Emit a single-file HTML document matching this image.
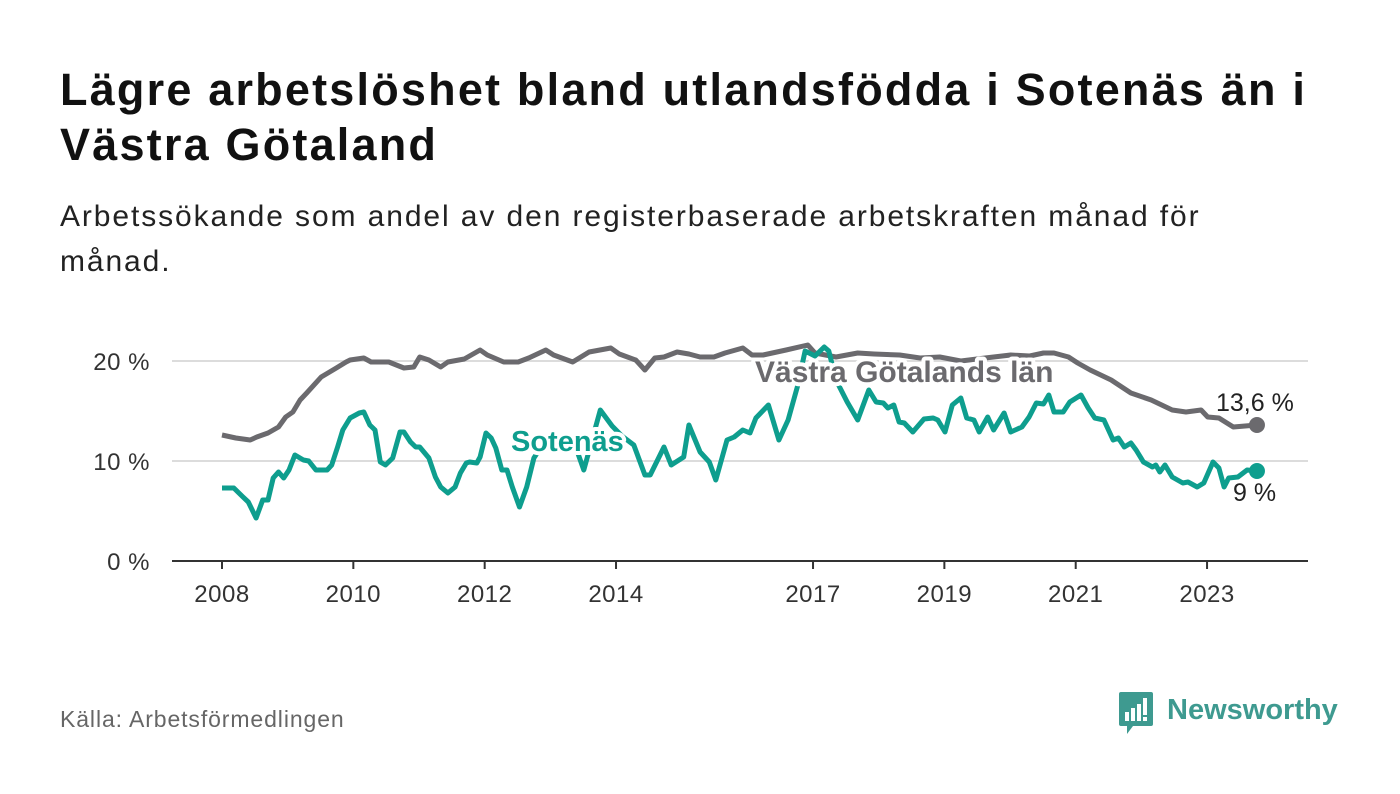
<!DOCTYPE html>
<html><head><meta charset="utf-8"><style>
body{margin:0;width:1400px;height:794px;background:#fff;font-family:"Liberation Sans","DejaVu Sans",sans-serif;overflow:hidden;position:relative}
h1{position:absolute;left:60px;top:62px;margin:0;font-size:45px;letter-spacing:2.2px;line-height:55px;font-weight:bold;color:#111;width:1285px}
.sub{position:absolute;left:60px;top:194px;margin:0;font-size:30px;letter-spacing:1.9px;line-height:45px;color:#222;width:1200px}
.src{position:absolute;left:60px;top:706px;font-size:23px;letter-spacing:0.9px;color:#666}
svg{position:absolute;left:0;top:0}
</style></head><body>
<h1>Lägre arbetslöshet bland utlandsfödda i Sotenäs än i Västra Götaland</h1>
<p class="sub">Arbetssökande som andel av den registerbaserade arbetskraften månad för månad.</p>
<div class="src">Källa: Arbetsförmedlingen</div>
<svg width="1400" height="794" id="chart"></svg>
<script>
const yTicks=[0,10,20];
const yTickLabels=["0 %","10 %","20 %"];
const xTicks=[2008,2010,2012,2014,2017,2019,2021,2023];
const sotDates=[2008.0,2008.18,2008.32,2008.40,2008.52,2008.62,2008.70,2008.78,2008.86,2008.94,2009.02,2009.11,2009.24,2009.32,2009.43,2009.60,2009.67,2009.76,2009.84,2009.95,2010.09,2010.16,2010.25,2010.33,2010.41,2010.49,2010.60,2010.71,2010.77,2010.87,2010.95,2011.01,2011.15,2011.25,2011.33,2011.44,2011.55,2011.63,2011.72,2011.77,2011.88,2011.93,2012.02,2012.10,2012.17,2012.26,2012.34,2012.42,2012.53,2012.64,2012.75,2012.92,2013.15,2013.38,2013.51,2013.76,2013.94,2014.09,2014.27,2014.44,2014.52,2014.73,2014.84,2015.03,2015.11,2015.28,2015.42,2015.52,2015.69,2015.80,2015.93,2016.04,2016.13,2016.32,2016.48,2016.62,2016.76,2016.88,2017.03,2017.17,2017.24,2017.35,2017.52,2017.68,2017.85,2017.96,2018.07,2018.14,2018.23,2018.31,2018.39,2018.52,2018.69,2018.83,2018.90,2019.01,2019.12,2019.25,2019.34,2019.45,2019.53,2019.66,2019.75,2019.91,2020.01,2020.18,2020.29,2020.40,2020.51,2020.59,2020.67,2020.81,2020.91,2021.08,2021.19,2021.29,2021.43,2021.57,2021.65,2021.74,2021.84,2021.92,2022.03,2022.17,2022.22,2022.28,2022.36,2022.47,2022.63,2022.71,2022.85,2022.95,2023.09,2023.18,2023.26,2023.33,2023.47,2023.61,2023.76];
const sotValues=[7.3,7.3,6.4,5.9,4.3,6.1,6.1,8.3,8.9,8.3,9.1,10.6,10.1,10.0,9.1,9.1,9.6,11.4,13.1,14.3,14.8,14.9,13.6,13.1,9.9,9.6,10.3,12.9,12.9,11.9,11.4,11.4,10.3,8.4,7.4,6.8,7.4,8.8,9.8,9.9,9.8,10.4,12.8,12.3,11.3,9.1,9.1,7.4,5.4,7.4,10.3,12.0,12.5,11.5,9.1,15.1,13.5,12.5,11.6,8.6,8.6,11.4,9.6,10.4,13.6,10.9,9.9,8.1,12.1,12.4,13.1,12.8,14.3,15.6,12.1,14.1,17.4,21.0,20.5,21.4,21.0,18.1,15.9,14.1,17.1,15.9,15.8,15.3,15.6,13.9,13.8,12.9,14.2,14.3,14.1,12.9,15.6,16.3,14.3,14.1,12.9,14.4,13.1,14.8,12.9,13.4,14.4,15.8,15.7,16.6,14.9,14.9,15.9,16.6,15.3,14.3,14.1,12.1,12.3,11.4,11.8,11.1,9.9,9.4,9.6,8.9,9.6,8.4,7.8,7.9,7.4,7.8,9.9,9.3,7.4,8.3,8.4,9.1,9.0];
const vgDates=[2008.0,2008.21,2008.43,2008.53,2008.70,2008.86,2008.97,2009.08,2009.19,2009.29,2009.51,2009.74,2009.89,2009.95,2010.16,2010.27,2010.54,2010.77,2010.92,2011.01,2011.15,2011.33,2011.44,2011.69,2011.93,2012.04,2012.29,2012.51,2012.67,2012.93,2013.05,2013.34,2013.59,2013.92,2014.05,2014.30,2014.44,2014.59,2014.73,2014.93,2015.11,2015.28,2015.49,2015.66,2015.93,2016.07,2016.24,2016.59,2016.92,2017.03,2017.35,2017.68,2017.93,2018.32,2018.63,2018.93,2019.25,2019.62,2020.01,2020.30,2020.51,2020.67,2020.89,2021.03,2021.22,2021.54,2021.84,2022.15,2022.47,2022.68,2022.91,2023.01,2023.18,2023.40,2023.76];
const vgValues=[12.6,12.3,12.1,12.4,12.8,13.4,14.4,14.9,16.1,16.8,18.4,19.3,19.9,20.1,20.3,19.9,19.9,19.3,19.4,20.4,20.1,19.4,19.9,20.2,21.1,20.6,19.9,19.9,20.3,21.1,20.6,19.9,20.9,21.3,20.7,20.1,19.1,20.3,20.4,20.9,20.7,20.4,20.4,20.8,21.3,20.6,20.6,21.1,21.6,20.8,20.4,20.8,20.7,20.6,20.3,20.4,20.0,20.3,20.6,20.5,20.8,20.8,20.4,19.8,19.1,18.1,16.8,16.1,15.1,14.9,15.1,14.4,14.3,13.4,13.6];
const sotLast="9 %", vgLast="13,6 %";

const NS="http://www.w3.org/2000/svg";
const svg=document.getElementById('chart');
const xs=y=>222+(y-2008)*65.67;
const ys=v=>561-v*10;
function mk(tag,attrs,parent){const e=document.createElementNS(NS,tag);for(const k in attrs)e.setAttribute(k,attrs[k]);(parent||svg).appendChild(e);return e;}
yTicks.forEach((t,i)=>{
  if(t>0){const g=mk('line',{x1:172,x2:1308,y1:ys(t),y2:ys(t),stroke:'#dcdcdc','stroke-width':2});
  
  }
  const l=mk('text',{x:150,y:ys(t)+9,'text-anchor':'end','font-size':24,'letter-spacing':0.5,fill:'#333'});
  l.textContent=yTickLabels[i];
  
  
});
const ax=mk('line',{x1:172,x2:1308,y1:561,y2:561,stroke:'#333','stroke-width':2});


xTicks.forEach(t=>{
  const tk=mk('line',{x1:xs(t),x2:xs(t),y1:561,y2:569,stroke:'#333','stroke-width':2});
  
  
  const l=mk('text',{x:xs(t),y:602,'text-anchor':'middle','font-size':24,'letter-spacing':0.5,fill:'#333'});
  l.textContent=t;
  
  
});
function path(d,v){return d.map((x,i)=>(i?'L':'M')+xs(x).toFixed(1)+','+ys(v[i]).toFixed(1)).join('');}
const vg=mk('path',{d:path(vgDates,vgValues),fill:'none',stroke:'#6b6a6e','stroke-width':5,'stroke-linejoin':'round'});


const so=mk('path',{d:path(sotDates,sotValues),fill:'none',stroke:'#0e9e8e','stroke-width':5,'stroke-linejoin':'round'});


const vd=mk('circle',{cx:xs(vgDates[vgDates.length-1]),cy:ys(vgValues[vgValues.length-1]),r:8,fill:'#6b6a6e'});


const sd=mk('circle',{cx:xs(sotDates[sotDates.length-1]),cy:ys(sotValues[sotValues.length-1]),r:8,fill:'#0e9e8e'});


function lab(txt,x,y,size,fill,bold,name){const t=mk('text',{x:x,y:y,'font-size':size,fill:fill,'font-weight':bold?'bold':'normal',stroke:'#fff','stroke-width':bold?8:5,'paint-order':'stroke','stroke-linejoin':'round'});t.textContent=txt;

}
lab('Sotenäs',511,451,29,'#0e9e8e',true,'sotenas-label');
lab('Västra Götalands län',755,382,30,'#6b6a6e',true,'vastra-gotaland-label');
lab(vgLast,1216,411,25,'#222',false,'vastra-gotaland-end-value');
lab(sotLast,1233,501,25,'#222',false,'sotenas-end-value');
</script>
<div style="position:absolute;left:1119px;top:692px;width:240px;height:44px">
<svg width="36" height="44" style="position:absolute;left:0;top:0"><path d="M2 0H32Q34 0 34 2V32Q34 34 32 34H14L8 42V34H2Q0 34 0 32V2Q0 0 2 0Z" fill="#3e9a90"/><rect x="6" y="20" width="4" height="9" fill="#fff"/><rect x="12" y="16" width="4" height="13" fill="#fff"/><rect x="18" y="12" width="4" height="17" fill="#fff"/><rect x="24" y="6" width="4" height="17" fill="#fff"/><rect x="24" y="25" width="4" height="4" fill="#fff"/></svg>
<span style="position:absolute;left:48px;top:0;font-size:29px;font-weight:bold;color:#3e9a90;line-height:36px">Newsworthy</span>
</div>
</body></html>
